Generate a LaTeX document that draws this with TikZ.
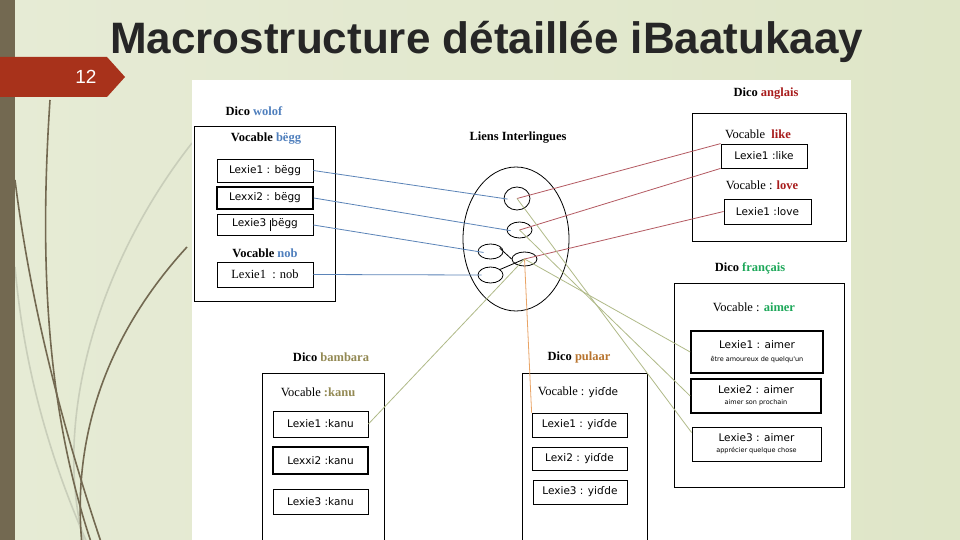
\documentclass[tikz,border=0pt]{standalone}
\usepackage{fontspec}
\setmainfont{Liberation Serif}
\setsansfont{Liberation Sans}
\newfontfamily\boxfont{DejaVu Sans}
\usetikzlibrary{shapes.geometric}

\definecolor{slidebg}{HTML}{E6EBD5}
\definecolor{slidebgr}{HTML}{DFE6C8}
\definecolor{barbrown}{HTML}{736951}
\definecolor{curvelight}{HTML}{C9CEBA}
\definecolor{tabred}{HTML}{A8321B}
\definecolor{titlegray}{HTML}{262626}
\definecolor{wolofblue}{HTML}{4F7FBD}
\definecolor{anglred}{HTML}{A81C1C}
\definecolor{frgreen}{HTML}{1EA85A}
\definecolor{bambtan}{HTML}{938953}
\definecolor{pulbrown}{HTML}{B8742E}
\definecolor{lnblue}{HTML}{5B84B8}
\definecolor{lnred}{HTML}{B45A62}
\definecolor{lngreen}{HTML}{B0BA88}
\definecolor{lnorange}{HTML}{E9A466}

\begin{document}
\begin{tikzpicture}[x=1pt, y=-1pt,
    dico/.style={draw, line width=0.8pt, inner sep=0pt},
    lex/.style={draw, line width=0.8pt, inner sep=0pt, align=center,
                font=\boxfont\fontsize{10.5}{12}\selectfont},
    lexthick/.style={lex, line width=1.6pt},
    dicolbl/.style={font=\bfseries\fontsize{12.5}{14}\selectfont, inner sep=0pt},
    voclbl/.style={font=\fontsize{12.5}{14}\selectfont, inner sep=0pt},
    lien/.style={draw, ellipse, line width=0.8pt, inner sep=0pt},
    curve/.style={barbrown, line width=1.6pt},
    curvepale/.style={curvelight, line width=1.6pt},
    wl/.style={draw=lnblue, line width=0.8pt},
    al/.style={draw=lnred, line width=0.8pt},
    fl/.style={draw=lngreen, line width=0.8pt},
    pl/.style={draw=lnorange, line width=0.8pt},
]
\useasboundingbox (0,0) rectangle (960,540);
\clip (0,0) rectangle (960,540);

% slide background and decoration
\shade[left color=slidebg, right color=slidebgr] (0,0) rectangle (960,540);
\draw[curvepale] (192,143) .. controls (100,260) and (50,420) .. (85,545);
\draw[curvepale] (15,267) .. controls (25,380) and (55,470) .. (88,545);
\draw[curve] (50,100) .. controls (38,280) and (50,420) .. (92,545);
\draw[curve] (15,180) .. controls (30,300) and (60,420) .. (102,545);
\draw[curve] (187,247) .. controls (120,320) and (70,420) .. (82,545);
\fill[barbrown] (0,0) rectangle (15,540);
\fill[tabred] (0,57) -- (107,57) -- (125,77) -- (107,97) -- (0,97) -- cycle;
\node[text=white, font=\sffamily\fontsize{19}{20}\selectfont] (pagenum) at (86,77) {12};
\node[anchor=base west, text=titlegray, inner sep=0pt,
      font=\sffamily\bfseries\fontsize{44}{46}\selectfont] (title) at (110,54)
      {Macrostructure détaillée iBaatukaay};
\fill[white] (192,80) rectangle (851,545);

% Dico wolof
\node[dicolbl] (dwolof) at (254,111) {Dico \textcolor{wolofblue}{wolof}};
\node[dico, minimum width=141pt, minimum height=175pt] (wolof) at (264.5,213.5) {};
\node[dicolbl] (vbegg) at (266,139) {Vocable \textcolor{wolofblue}{bëgg}};
\node[lex, minimum width=96pt, minimum height=23pt] (lw1) at (265,170.5) {Lexie1 : bëgg};
\node[lexthick, minimum width=96pt, minimum height=22pt] (lw2) at (265,198) {Lexxi2 : bëgg};
\node[lex, minimum width=96pt, minimum height=21pt] (lw3) at (265,225)
     {Lexie3 \rule[-5pt]{1.8pt}{11pt}bëgg};
\node[dicolbl] (vnob) at (265,253) {Vocable \textcolor{wolofblue}{nob}};
\node[lex, minimum width=96pt, minimum height=25pt, font=\fontsize{12.5}{14}\selectfont] (lw4) at (265,274.5) {Lexie1\ \ : nob};

% Liens Interlingues
\node[dicolbl] (liens) at (518,138) {Liens Interlingues};
\node[lien, minimum width=106pt, minimum height=144pt] (links) at (516,239) {};
\node[lien, minimum width=26pt, minimum height=23pt] (e1) at (517,198.5) {};
\node[lien, minimum width=25pt, minimum height=16pt] (e2) at (519.5,230) {};
\node[lien, minimum width=25pt, minimum height=15pt] (e3) at (490.5,251.5) {};
\node[lien, minimum width=25pt, minimum height=14pt] (e4) at (524.5,259) {};
\node[lien, minimum width=25pt, minimum height=16pt] (e5) at (490.5,275) {};
\draw[line width=0.8pt, shorten <=-5pt] (e3.east) -- (e4.west);
\draw[line width=0.8pt] (e5.30) -- (e4.center);

% Dico anglais
\node[dicolbl] (danglais) at (766,94) {Dico \textcolor{anglred}{anglais}};
\node[dico, minimum width=154pt, minimum height=128pt] (anglais) at (769,177) {};
\node[voclbl] (vlike) at (758,134) {Vocable\ \ \textbf{\textcolor{anglred}{like}}};
\node[lex, minimum width=86pt, minimum height=24pt] (la1) at (764,156) {Lexie1 :like};
\node[voclbl] (vlove) at (762,185) {Vocable : \textbf{\textcolor{anglred}{love}}};
\node[lex, minimum width=87pt, minimum height=25pt] (la2) at (767.5,211.5) {Lexie1 :love};

% Dico français
\node[dicolbl] (dfr) at (750,268) {Dico \textcolor{frgreen}{français}};
\node[dico, minimum width=170pt, minimum height=204pt] (francais) at (759,385) {};
\node[voclbl] (vaimer) at (754,307) {Vocable : \textbf{\textcolor{frgreen}{aimer}}};
\node[lexthick, minimum width=132pt, minimum height=42pt] (lf1) at (757,352)
     {Lexie1 : aimer\\[1pt]{\fontsize{6.5}{8}\selectfont être amoureux de quelqu'un}};
\node[lexthick, minimum width=130pt, minimum height=34pt] (lf2) at (756,396)
     {Lexie2 : aimer\\[-1pt]{\fontsize{6.5}{8}\selectfont aimer son prochain}};
\node[lex, minimum width=129pt, minimum height=34pt] (lf3) at (756.5,444)
     {Lexie3 : aimer\\[-1pt]{\fontsize{6.5}{8}\selectfont apprécier quelque chose}};

% Dico bambara
\node[dicolbl] (dbambara) at (331,357) {Dico \textcolor{bambtan}{bambara}};
\node[dico, minimum width=122pt, minimum height=187pt] (bambara) at (323,466.5) {};
\node[voclbl] (vkanu) at (318,392) {Vocable \textbf{\textcolor{bambtan}{:kanu}}};
\node[lex, minimum width=95pt, minimum height=26pt] (lb1) at (320.5,424) {Lexie1 :kanu};
\node[lexthick, minimum width=95pt, minimum height=27pt] (lb2) at (320.5,460.5) {Lexxi2 :kanu};
\node[lex, minimum width=95pt, minimum height=25pt] (lb3) at (320.5,501.5) {Lexie3 :kanu};

% Dico pulaar
\node[dicolbl] (dpulaar) at (579,357) {Dico \textcolor{pulbrown}{pulaar}};
\node[dico, minimum width=125pt, minimum height=187pt] (pulaar) at (584.5,466.5) {};
\node[voclbl] (vyidde) at (578,392) {Vocable : {\boxfont\fontsize{10.5}{12}\selectfont yiɗde}};
\node[lex, minimum width=95pt, minimum height=24pt] (lp1) at (579.5,425) {Lexie1 : yiɗde};
\node[lex, minimum width=95pt, minimum height=23pt] (lp2) at (579.5,458.5) {Lexi2 : yiɗde};
\node[lex, minimum width=94pt, minimum height=24pt] (lp3) at (580,492) {Lexie3 : yiɗde};

% interlingual links
\draw[wl, shorten >=-4pt] (lw1.east) -- (e1.west);
\draw[wl, shorten >=-4pt] (lw2.east) -- (e2.west);
\draw[wl, shorten >=-6pt] (lw3.east) -- (e3.west);
\draw[wl, shorten >=-4pt] (lw4.east) -- (e5.west);
\draw[al] (e1.center) -- (la1.north west);
\draw[al] (e2.center) -- (la1.south west);
\draw[al] (e4.center) -- (la2.west);
\draw[fl] (e1.center) -- (lf3.170);
\draw[fl] (e2.center) -- (lf2.west);
\draw[fl] (e4.center) -- (lf1.west);
\draw[fl] (e4.center) -- (lb1.east);
\draw[pl] (e4.center) -- (lp1.north west);
\end{tikzpicture}
\end{document}
